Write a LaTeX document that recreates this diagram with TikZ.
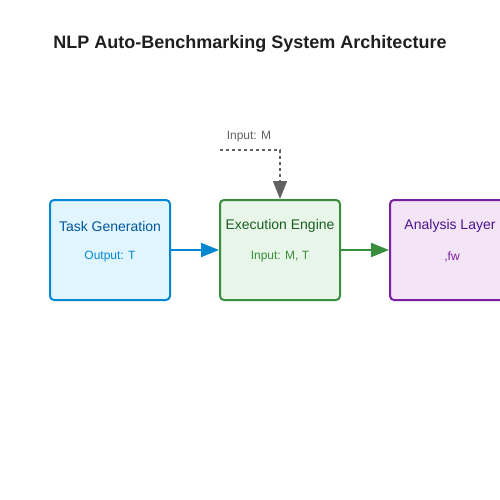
\documentclass[tikz,border=0pt]{standalone}
\usepackage{fontspec}
\setmainfont{Liberation Sans}
\usetikzlibrary{arrows.meta}

\definecolor{taskline}{HTML}{0288D1}
\definecolor{taskfill}{HTML}{E1F5FE}
\definecolor{tasktext}{HTML}{01579B}
\definecolor{execline}{HTML}{388E3C}
\definecolor{execfill}{HTML}{E8F5E9}
\definecolor{exectext}{HTML}{1B5E20}
\definecolor{analine}{HTML}{7B1FA2}
\definecolor{anafill}{HTML}{F3E5F5}
\definecolor{anatext}{HTML}{4A148C}
\definecolor{feedgray}{HTML}{616161}

\tikzset{
  layer/.style={draw, line width=2pt, rounded corners=4pt, minimum width=120pt, minimum height=100pt},
  flow/.style={line width=2pt, -{Triangle[length=18pt, width=14pt]}},
  heading/.style={font=\fontsize{14}{16}\selectfont},
  detail/.style={font=\fontsize{12}{14}\selectfont}
}

\begin{document}
\begin{tikzpicture}[x=1pt, y=-1pt]
      \useasboundingbox (0, 0) rectangle (500, 500);
      \clip (0, 0) rectangle (500, 500);

      % Título
      \node[font=\bfseries\fontsize{18}{22}\selectfont, text=black!88] (title) at (250, 44) {NLP Auto-Benchmarking System Architecture};

      % Task Generation
      \node[layer, draw=taskline, fill=taskfill] (task) at (110, 250) {};
      \node[heading, text=tasktext] (tasktitle) at (110, 226) {Task Generation};
      \node[detail, text=taskline] (taskout) at (110, 257) {Output: T};

      % Execution Engine
      \node[layer, draw=execline, fill=execfill] (exec) at (280, 250) {};
      \node[heading, text=exectext] (exectitle) at (280, 226) {Execution Engine};
      \node[detail, text=execline] (execin) at (280, 257) {Input: M, T};

      % Analysis Layer
      \node[layer, draw=analine, fill=anafill] (ana) at (450, 250) {};
      \node[heading, text=anatext] (anatitle) at (450, 226) {Analysis Layer};
      \node[detail, text=analine] (anain) at (452, 257) {,fw};

      % Setas
      \draw[flow, taskline] (task) -- (exec);
      \draw[flow, execline] (exec) -- (ana);

      % Entrada M
      \coordinate (mstart) at (220, 150);
      \draw[flow, feedgray, dashed, line width=1.5pt] (mstart) -| (exec.north);
      \node[detail, text=feedgray] (mlabel) at (249, 137) {Input: M};
    \end{tikzpicture}
\end{document}
